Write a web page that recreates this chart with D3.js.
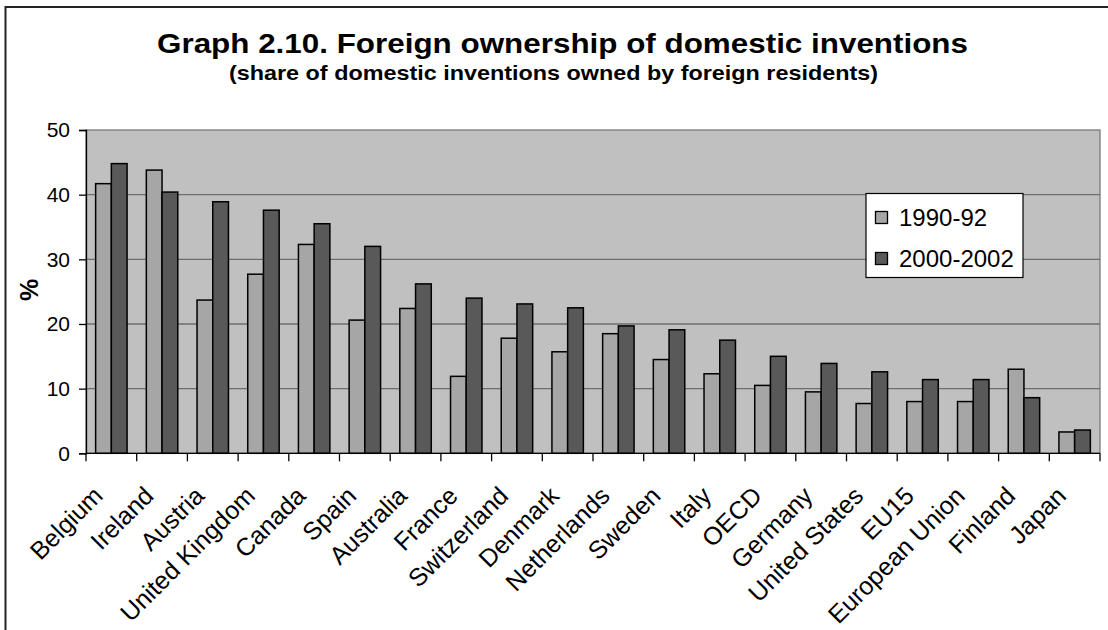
<!DOCTYPE html>
<html>
<head>
<meta charset="utf-8">
<script src="https://d3js.org/d3.v7.min.js"></script>
<style>
  html, body { margin: 0; padding: 0; background: #ffffff; }
  svg { display: block; }
  text { font-family: "Liberation Sans", Arial, Helvetica, sans-serif; fill: #000; }
</style>
</head>
<body>
<script>
// Foreign ownership of domestic inventions, % of domestic inventions
const categories = ["Belgium", "Ireland", "Austria", "United Kingdom", "Canada", "Spain",
  "Australia", "France", "Switzerland", "Denmark", "Netherlands", "Sweden", "Italy",
  "OECD", "Germany", "United States", "EU15", "European Union", "Finland", "Japan"];
const series = ["1990-92", "2000-2002"];
const values1990 = [41.7, 43.8, 23.7, 27.7, 32.3, 20.6, 22.4, 11.9, 17.8, 15.7,
  18.5, 14.5, 12.3, 10.5, 9.5, 7.7, 8.0, 8.0, 13.0, 3.3];
const values2000 = [44.8, 40.4, 38.9, 37.6, 35.5, 32.0, 26.2, 24.0, 23.1, 22.5,
  19.7, 19.1, 17.5, 15.0, 13.9, 12.6, 11.4, 11.4, 8.6, 3.6];
const yTicks = [0, 10, 20, 30, 40, 50];
const seriesColors = ["#a6a6a6", "#595959"];

const W = 1108, H = 630;
const plot = { left: 86, right: 1100, top: 130, bottom: 453.3 };

const svg = d3.select("body").append("svg").attr("width", W).attr("height", H);

// outer chart frame
svg.append("rect")
  .attr("x", 5.5).attr("y", 7).attr("width", W + 20).attr("height", H + 20)
  .attr("fill", "none").attr("stroke", "#222").attr("stroke-width", 2);

const x = d3.scaleBand().domain(categories).range([plot.left, plot.right]).paddingInner(0).paddingOuter(0);
const bw = x.bandwidth();
const x1 = d3.scaleBand().domain(series).range([bw * 0.19, bw * 0.81]).padding(0);
const y = d3.scaleLinear().domain([0, 50]).range([plot.bottom, plot.top]);
const color = d3.scaleOrdinal().domain(series).range(seriesColors);

// plot area
svg.append("rect")
  .attr("x", plot.left).attr("y", plot.top)
  .attr("width", plot.right - plot.left).attr("height", plot.bottom - plot.top)
  .attr("fill", "#c0c0c0").attr("stroke", "#7a7a7a").attr("stroke-width", 1.3);

// horizontal gridlines
svg.append("g").selectAll("line").data(yTicks.filter(d => d > 0 && d < 50)).join("line")
  .attr("x1", plot.left).attr("x2", plot.right)
  .attr("y1", d => y(d)).attr("y2", d => y(d))
  .attr("stroke", "#6e6e6e").attr("stroke-width", 1.3);

// bars
const rows = categories.map((c, i) => ({ cat: c, vals: [values1990[i], values2000[i]] }));
const groups = svg.append("g").selectAll("g").data(rows).join("g")
  .attr("transform", d => `translate(${x(d.cat)},0)`);
groups.selectAll("rect").data(d => series.map((s, k) => ({ s, v: d.vals[k] }))).join("rect")
  .attr("x", d => x1(d.s))
  .attr("width", x1.bandwidth())
  .attr("y", d => y(d.v))
  .attr("height", d => y(0) - y(d.v))
  .attr("fill", d => color(d.s))
  .attr("stroke", "#000").attr("stroke-width", 1.5);

// y axis
const yAxis = svg.append("g").attr("transform", `translate(${plot.left},0)`)
  .call(d3.axisLeft(y).tickValues(yTicks).tickSize(7).tickPadding(9).tickFormat(d3.format("d")));
yAxis.select(".domain").attr("stroke", "#000").attr("stroke-width", 1.3);
yAxis.selectAll(".tick line").attr("stroke", "#000").attr("stroke-width", 1.3);
yAxis.selectAll(".tick text").attr("font-size", 21).style("font-family", "'Liberation Sans', Arial, sans-serif").attr("fill", "#000");

// x axis: ticks on category boundaries
const xAxisG = svg.append("g");
xAxisG.append("line")
  .attr("x1", plot.left).attr("x2", plot.right)
  .attr("y1", plot.bottom).attr("y2", plot.bottom)
  .attr("stroke", "#000").attr("stroke-width", 1.3);
const bounds = categories.map(c => x(c)).concat([plot.right]);
xAxisG.selectAll("line.tk").data(bounds).join("line").attr("class", "tk")
  .attr("x1", d => d).attr("x2", d => d)
  .attr("y1", plot.bottom).attr("y2", plot.bottom + 8)
  .attr("stroke", "#000").attr("stroke-width", 1.3);

// rotated category labels
svg.append("g").selectAll("text").data(categories).join("text")
  .attr("transform", d => `translate(${x(d) + bw / 2 - 7},${plot.bottom + 44}) rotate(-45)`)
  .attr("text-anchor", "end")
  .attr("font-size", 25)
  .text(d => d);

// y axis title
svg.append("text")
  .attr("transform", `translate(38,290) rotate(-90)`)
  .attr("text-anchor", "middle")
  .attr("font-size", 25).attr("font-weight", "bold")
  .text("%");

// titles
svg.append("text")
  .attr("x", 157).attr("y", 53)
  .attr("font-size", 27).attr("font-weight", "bold")
  .attr("textLength", 811).attr("lengthAdjust", "spacingAndGlyphs")
  .text("Graph 2.10. Foreign ownership of domestic inventions");
svg.append("text")
  .attr("x", 229).attr("y", 80)
  .attr("font-size", 21).attr("font-weight", "bold")
  .attr("textLength", 649).attr("lengthAdjust", "spacingAndGlyphs")
  .text("(share of domestic inventions owned by foreign residents)");

// legend
const legend = svg.append("g").attr("transform", "translate(866,193.5)");
legend.append("rect").attr("width", 157).attr("height", 84)
  .attr("fill", "#fff").attr("stroke", "#000").attr("stroke-width", 1.2);
const li = legend.selectAll("g").data(series).join("g")
  .attr("transform", (d, i) => `translate(0,${i * 41})`);
li.append("rect").attr("x", 9.5).attr("y", 18).attr("width", 12).attr("height", 12)
  .attr("fill", d => color(d)).attr("stroke", "#000").attr("stroke-width", 1.3);
li.append("text").attr("x", 33).attr("y", 32).attr("font-size", 24).text(d => d);
</script>
</body>
</html>
